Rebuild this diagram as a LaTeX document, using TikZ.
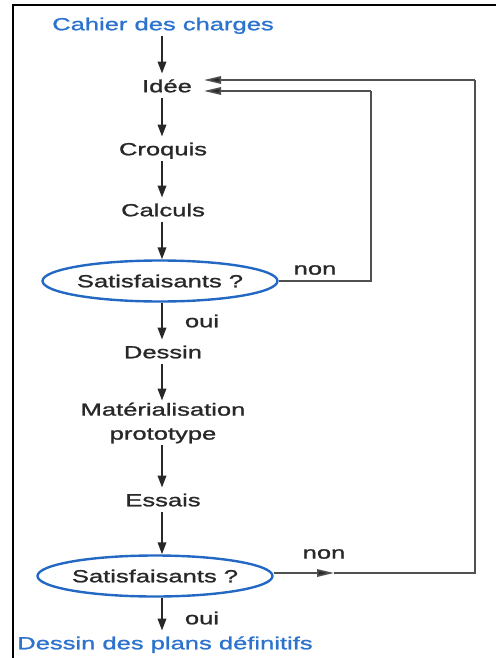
\documentclass[tikz,border=0pt]{standalone}
\usepackage{fontspec}
\setmainfont{Liberation Sans}[FakeStretch=1.46,FakeBold=1.3]
\usetikzlibrary{arrows.meta,shapes.geometric}
\definecolor{tblue}{RGB}{45,115,205}
\definecolor{eblue}{RGB}{35,105,195}
\definecolor{ink}{RGB}{40,40,40}
\definecolor{fb}{RGB}{80,80,80}
\begin{document}
\begin{tikzpicture}[x=1pt,y=-1pt,
  txt/.style={font=\fontsize{17.5}{24}\selectfont, text=ink, inner xsep=2pt, inner ysep=6pt, text height=12.5pt, text depth=0pt},
  btxt/.style={txt, text=tblue},
  dec/.style={ellipse, draw=eblue, line width=2.4pt, minimum width=224pt, minimum height=41pt, inner sep=0pt, font=\fontsize{17.5}{24}\selectfont, text=ink},
  arr/.style={draw=ink, line width=2pt, -{Triangle[length=12pt,width=8.5pt]}},
  fbline/.style={draw=fb, line width=1.6pt},
  fbarr/.style={fbline, -{Triangle[length=17pt,width=7.5pt,fill=ink]}},
  lab/.style={font=\fontsize{17.5}{24}\selectfont, text=ink, inner sep=0pt}
]
\useasboundingbox (0,0) rectangle (496,658);
\draw[black, line width=2.6pt] (13,658) -- (13,5) -- (496,5);

\node[btxt] (cahier) at (163,24) {Cahier des charges};
\node[txt] (idee) at (167,86) {Idée};
\node[txt] (croquis) at (163,149) {Croquis};
\node[txt] (calculs) at (163,210) {Calculs};
\node[dec] (sat1) at (160,281) {Satisfaisants ?};
\node[txt] (dessin) at (163,352) {Dessin};
\node[txt, align=center, text height=, text depth=, inner ysep=2pt] (mat) at (163,423) {Matérialisation\\prototype};
\node[txt] (essais) at (163,500) {Essais};
\node[dec] (sat2) at (155,576) {Satisfaisants ?};
\node[btxt] (final) at (165,643) {Dessin des plans définitifs};

\draw[arr] (cahier.south -| 162,0) -- (idee.north -| 162,0);
\draw[arr] (idee.south -| 162,0) -- (croquis.north -| 162,0);
\draw[arr] (croquis.south -| 162,0) -- (calculs.north -| 162,0);
\draw[arr] (calculs.south -| 162,0) -- (sat1.north -| 162,0);
\draw[arr] (sat1.south -| 162,0) -- (dessin.north -| 162,0);
\draw[arr] (dessin.south -| 162,0) -- (mat.north -| 162,0);
\draw[arr] (mat.south -| 162,0) -- (essais.north -| 162,0);
\draw[arr] (essais.south -| 162,0) -- (sat2.north -| 162,0);
\draw[arr] (sat2.south -| 162,0) -- (final.north -| 162,0);

\node[lab] (oui1) at (202,321) {oui};
\node[lab] (oui2) at (202,618) {oui};
\node[lab] (non1) at (315,270) {non};
\node[lab] (non2) at (324,554) {non};

\coordinate (c1a) at (371,281);
\coordinate (c1b) at (371,91);
\coordinate (i1) at (204,91);
\coordinate (m2) at (334,573);
\coordinate (c2a) at (475,573);
\coordinate (c2b) at (475,80);
\coordinate (i2) at (204,80);
\draw[fbline] (sat1.east) -- (c1a) -- (c1b);
\draw[fbarr] (c1b) -- (i1);
\draw[fbarr] (sat2.east |- m2) -- (m2);
\draw[fbline] (m2) -- (c2a) -- (c2b);
\draw[fbarr] (c2b) -- (i2);
\end{tikzpicture}
\end{document}
